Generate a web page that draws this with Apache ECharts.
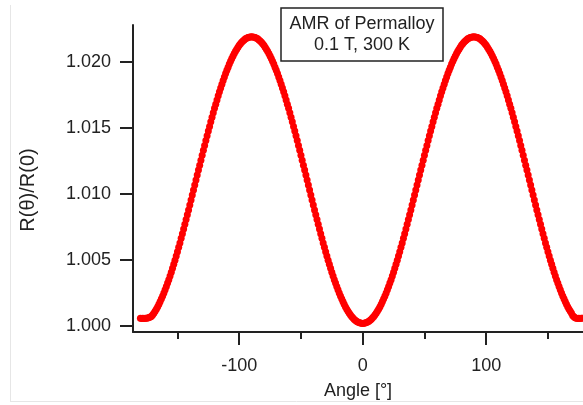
<!DOCTYPE html>
<html>
<head>
<meta charset="utf-8">
<script src="https://cdn.jsdelivr.net/npm/echarts@6/dist/echarts.min.js"></script>
<style>
html, body { margin: 0; padding: 0; background: #fff; }
#chart { width: 583px; height: 405px; }
</style>
</head>
<body>
<div id="chart"></div>
<script>
// AMR of Permalloy, 0.1 T, 300 K
const angleStart = -180;   // first measured angle [deg]
const angleStep = 1;       // one point per degree

// R(theta)/R(0), from -180 to 180 deg
const ratios = [
  1.00060, 1.00058, 1.00059, 1.00058, 1.00060, 1.00059, 1.00061, 1.00064, 1.00068, 1.00075,
  1.00085, 1.00099, 1.00114, 1.00130, 1.00147, 1.00165, 1.00185, 1.00206, 1.00227, 1.00250,
  1.00274, 1.00299, 1.00325, 1.00351, 1.00379, 1.00408, 1.00437, 1.00467, 1.00498, 1.00530,
  1.00563, 1.00596, 1.00629, 1.00664, 1.00699, 1.00734, 1.00770, 1.00806, 1.00843, 1.00879,
  1.00917, 1.00954, 1.00992, 1.01029, 1.01067, 1.01105, 1.01143, 1.01181, 1.01218, 1.01256,
  1.01293, 1.01331, 1.01367, 1.01404, 1.01440, 1.01476, 1.01511, 1.01546, 1.01581, 1.01614,
  1.01648, 1.01680, 1.01712, 1.01743, 1.01773, 1.01802, 1.01831, 1.01859, 1.01885, 1.01911,
  1.01936, 1.01960, 1.01983, 1.02005, 1.02025, 1.02045, 1.02063, 1.02080, 1.02096, 1.02111,
  1.02125, 1.02137, 1.02148, 1.02158, 1.02166, 1.02174, 1.02179, 1.02184, 1.02187, 1.02189,
  1.02190, 1.02189, 1.02187, 1.02184, 1.02179, 1.02174, 1.02166, 1.02158, 1.02148, 1.02137,
  1.02125, 1.02111, 1.02096, 1.02080, 1.02063, 1.02045, 1.02025, 1.02005, 1.01983, 1.01960,
  1.01936, 1.01911, 1.01885, 1.01859, 1.01831, 1.01802, 1.01773, 1.01743, 1.01712, 1.01680,
  1.01648, 1.01614, 1.01581, 1.01546, 1.01511, 1.01476, 1.01440, 1.01404, 1.01367, 1.01331,
  1.01293, 1.01256, 1.01218, 1.01181, 1.01143, 1.01105, 1.01067, 1.01029, 1.00992, 1.00954,
  1.00917, 1.00879, 1.00843, 1.00806, 1.00770, 1.00734, 1.00699, 1.00664, 1.00629, 1.00596,
  1.00563, 1.00530, 1.00498, 1.00467, 1.00437, 1.00408, 1.00379, 1.00351, 1.00325, 1.00299,
  1.00274, 1.00250, 1.00227, 1.00206, 1.00185, 1.00165, 1.00147, 1.00130, 1.00114, 1.00099,
  1.00085, 1.00073, 1.00062, 1.00052, 1.00044, 1.00036, 1.00031, 1.00026, 1.00023, 1.00021,
  1.00020, 1.00021, 1.00023, 1.00026, 1.00031, 1.00036, 1.00044, 1.00052, 1.00062, 1.00073,
  1.00085, 1.00099, 1.00114, 1.00130, 1.00147, 1.00165, 1.00185, 1.00206, 1.00227, 1.00250,
  1.00274, 1.00299, 1.00325, 1.00351, 1.00379, 1.00408, 1.00437, 1.00467, 1.00498, 1.00530,
  1.00563, 1.00596, 1.00629, 1.00664, 1.00699, 1.00734, 1.00770, 1.00806, 1.00843, 1.00879,
  1.00917, 1.00954, 1.00992, 1.01029, 1.01067, 1.01105, 1.01143, 1.01181, 1.01218, 1.01256,
  1.01293, 1.01331, 1.01367, 1.01404, 1.01440, 1.01476, 1.01511, 1.01546, 1.01581, 1.01614,
  1.01648, 1.01680, 1.01712, 1.01743, 1.01773, 1.01802, 1.01831, 1.01859, 1.01885, 1.01911,
  1.01936, 1.01960, 1.01983, 1.02005, 1.02025, 1.02045, 1.02063, 1.02080, 1.02096, 1.02111,
  1.02125, 1.02137, 1.02148, 1.02158, 1.02166, 1.02174, 1.02179, 1.02184, 1.02187, 1.02189,
  1.02190, 1.02189, 1.02187, 1.02184, 1.02179, 1.02174, 1.02166, 1.02158, 1.02148, 1.02137,
  1.02125, 1.02111, 1.02096, 1.02080, 1.02063, 1.02045, 1.02025, 1.02005, 1.01983, 1.01960,
  1.01936, 1.01911, 1.01885, 1.01859, 1.01831, 1.01802, 1.01773, 1.01743, 1.01712, 1.01680,
  1.01648, 1.01614, 1.01581, 1.01546, 1.01511, 1.01476, 1.01440, 1.01404, 1.01367, 1.01331,
  1.01293, 1.01256, 1.01218, 1.01181, 1.01143, 1.01105, 1.01067, 1.01029, 1.00992, 1.00954,
  1.00917, 1.00879, 1.00843, 1.00806, 1.00770, 1.00734, 1.00699, 1.00664, 1.00629, 1.00596,
  1.00563, 1.00530, 1.00498, 1.00467, 1.00437, 1.00408, 1.00379, 1.00351, 1.00325, 1.00299,
  1.00274, 1.00250, 1.00227, 1.00206, 1.00185, 1.00165, 1.00147, 1.00130, 1.00114, 1.00099,
  1.00080, 1.00070, 1.00063, 1.00060, 1.00058, 1.00059, 1.00058, 1.00060, 1.00059, 1.00058,
  1.00060
];

const xMajorTicks = [-100, 0, 100];
const xMinorTicks = [-150, -50, 50, 150];
const yTicks = [1.000, 1.005, 1.010, 1.015, 1.020];

const titleLines = ['AMR of Permalloy', '0.1 T, 300 K'];

const points = ratios.map((r, i) => [angleStart + i * angleStep, r]);

const font = "'Liberation Sans', Arial, sans-serif";
const ink = '#222';

const chart = echarts.init(document.getElementById('chart'));

chart.setOption({
  backgroundColor: '#fff',
  animation: false,
  grid: { left: 133, right: 0, top: 25, bottom: 72 },
  xAxis: [{
    type: 'value',
    min: -186,
    max: 178.4,
    name: 'Angle [°]',
    nameLocation: 'middle',
    nameGap: 50,
    nameTextStyle: { fontFamily: font, fontSize: 18, color: ink },
    axisLine: { show: true, onZero: false, lineStyle: { color: ink, width: 2 } },
    axisTick: { show: true, customValues: xMajorTicks, length: 13, lineStyle: { color: ink, width: 2 } },
    axisLabel: { customValues: xMajorTicks, fontFamily: font, fontSize: 18, color: ink, margin: 25 },
    splitLine: { show: false }
  }, {
    type: 'value',
    min: -186,
    max: 178.4,
    position: 'bottom',
    offset: 0,
    axisLine: { show: false },
    axisTick: { show: true, customValues: xMinorTicks, length: 7, lineStyle: { color: ink, width: 2 } },
    axisLabel: { show: false },
    splitLine: { show: false }
  }],
  yAxis: {
    type: 'value',
    min: 0.99955,
    max: 1.02279,
    axisLine: { show: true, onZero: false, lineStyle: { color: ink, width: 2 } },
    axisTick: { show: true, customValues: yTicks, length: 13, lineStyle: { color: ink, width: 2 } },
    axisLabel: {
      customValues: yTicks,
      formatter: v => v.toFixed(3),
      fontFamily: font, fontSize: 18, color: ink, margin: 22
    },
    splitLine: { show: false }
  },
  graphic: [
    { type: 'line', shape: { x1: 10.5, y1: 5, x2: 10.5, y2: 401 }, style: { stroke: '#e6e6e6', lineWidth: 1 }, silent: true },
    { type: 'line', shape: { x1: 10, y1: 401.5, x2: 583, y2: 401.5 }, style: { stroke: '#e6e6e6', lineWidth: 1 }, silent: true },
    {
      type: 'text', x: 28, y: 190, rotation: Math.PI / 2,
      style: { text: 'R(θ)/R(0)', font: '20px ' + font, fill: ink, align: 'center', verticalAlign: 'middle' }
    },
    {
      type: 'group', z: 100,
      children: [
        { type: 'rect', shape: { x: 281, y: 8, width: 162, height: 53 }, style: { fill: '#fff', stroke: ink, lineWidth: 1.5 } },
        { type: 'text', x: 362, y: 24, style: { text: titleLines[0], font: '18px ' + font, fill: ink, align: 'center', verticalAlign: 'middle' } },
        { type: 'text', x: 362, y: 45, style: { text: titleLines[1], font: '18px ' + font, fill: ink, align: 'center', verticalAlign: 'middle' } }
      ]
    }
  ],
  series: [{
    type: 'scatter',
    xAxisIndex: 0,
    data: points,
    symbol: 'circle',
    symbolSize: 7,
    itemStyle: { color: '#ff0000', opacity: 1 },
    clip: true
  }]
});
</script>
</body>
</html>
